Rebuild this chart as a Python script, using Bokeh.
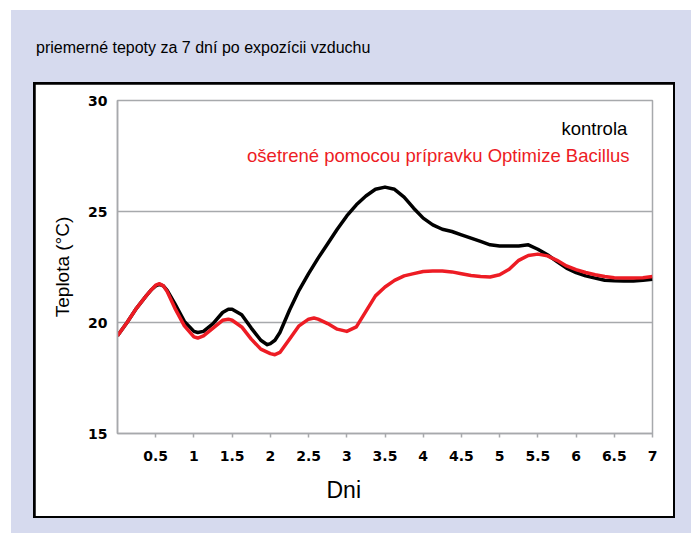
from bokeh.plotting import figure
from bokeh.models import Div, Label, FixedTicker, Range1d, NumeralTickFormatter, Title
from bokeh.layouts import column
from bokeh.embed import file_html
from bokeh.resources import INLINE

title_text = "priemerné tepoty za 7 dní po expozícii vzduchu"
x_label = "Dni"
y_label = "Teplota (°C)"
series_control = "kontrola"
series_treated = "ošetrené pomocou prípravku Optimize Bacillus"

x_ticks = [0.5, 1, 1.5, 2, 2.5, 3, 3.5, 4, 4.5, 5, 5.5, 6, 6.5, 7]
y_ticks = [15, 20, 25, 30]

control_x = [0.0, 0.125, 0.25, 0.375, 0.45, 0.5, 0.55, 0.6, 0.65, 0.75, 0.875, 1.0, 1.05, 1.125,
             1.25, 1.375, 1.45, 1.5, 1.625, 1.75, 1.875, 1.96, 2.0, 2.06, 2.125, 2.25, 2.375,
             2.5, 2.625, 2.75, 2.875, 3.0, 3.125, 3.25, 3.375, 3.5, 3.625, 3.75, 3.875,
             4.0, 4.125, 4.25, 4.375, 4.5, 4.625, 4.75, 4.875, 5.0, 5.125, 5.25, 5.375,
             5.5, 5.625, 5.75, 5.875, 6.0, 6.125, 6.25, 6.375, 6.5, 6.625, 6.75, 6.875, 7.0]
control_y = [19.4, 20.0, 20.65, 21.2, 21.5, 21.65, 21.72, 21.65, 21.45, 20.85, 20.05, 19.6, 19.55, 19.6,
             19.95, 20.45, 20.6, 20.6, 20.35, 19.75, 19.2, 19.0, 19.05, 19.2, 19.55, 20.55, 21.45,
             22.2, 22.9, 23.55, 24.2, 24.8, 25.3, 25.7, 26.0, 26.1, 26.0, 25.65, 25.15,
             24.7, 24.4, 24.2, 24.1, 23.95, 23.8, 23.65, 23.5, 23.45, 23.45, 23.45, 23.5,
             23.3, 23.05, 22.75, 22.45, 22.25, 22.1, 22.0, 21.9, 21.88, 21.87, 21.87, 21.9, 21.95]

treated_x = [0.0, 0.125, 0.25, 0.375, 0.45, 0.5, 0.55, 0.6, 0.65, 0.75, 0.875, 1.0, 1.05, 1.125,
             1.25, 1.375, 1.45, 1.5, 1.625, 1.75, 1.875, 2.0, 2.06, 2.125, 2.25, 2.375,
             2.5, 2.57, 2.625, 2.75, 2.875, 3.0, 3.125, 3.25, 3.375, 3.5, 3.625, 3.75,
             3.875, 4.0, 4.125, 4.25, 4.375, 4.5, 4.625, 4.75, 4.875, 5.0, 5.125, 5.25,
             5.375, 5.5, 5.625, 5.75, 5.875, 6.0, 6.125, 6.25, 6.375, 6.5, 6.625, 6.75,
             6.875, 7.0]
treated_y = [19.4, 20.0, 20.65, 21.2, 21.5, 21.68, 21.75, 21.65, 21.4, 20.65, 19.85, 19.35, 19.3, 19.4,
             19.75, 20.1, 20.15, 20.1, 19.8, 19.25, 18.8, 18.6, 18.55, 18.65, 19.25, 19.85,
             20.15, 20.2, 20.15, 19.95, 19.7, 19.6, 19.8, 20.5, 21.2, 21.6, 21.9, 22.1,
             22.2, 22.3, 22.32, 22.32, 22.28, 22.2, 22.12, 22.07, 22.05, 22.15, 22.4, 22.8,
             23.02, 23.08, 23.0, 22.8, 22.55, 22.38, 22.25, 22.15, 22.07, 22.02, 22.0, 22.0,
             22.02, 22.07]

GRAY = "#a7a9ac"
RED = "#ed1c24"
LAVENDER = "#d6daee"

p = figure(width=638, height=432, output_backend="svg", toolbar_location=None,
           x_range=Range1d(0, 7), y_range=Range1d(15, 30),
           min_border_left=82, min_border_right=21, min_border_top=16, min_border_bottom=83,
           margin=(2, 2, 2, 2))
p.border_fill_color = "white"
p.background_fill_color = "white"
p.outline_line_color = GRAY
p.outline_line_width = 1.5

p.xgrid.visible = False
p.ygrid.ticker = FixedTicker(ticks=[20, 25, 30])
p.ygrid.grid_line_color = GRAY
p.ygrid.grid_line_width = 1.5

p.xaxis.ticker = FixedTicker(ticks=x_ticks)
p.xaxis.formatter = NumeralTickFormatter(format="0.[0]")
p.yaxis.ticker = FixedTicker(ticks=y_ticks)
for ax in (p.xaxis, p.yaxis):
    ax.axis_line_color = GRAY
    ax.axis_line_width = 1.5
    ax.major_tick_line_color = GRAY
    ax.major_tick_line_width = 1.5
    ax.minor_tick_line_color = None
    ax.major_tick_in = 0
    ax.major_label_text_font = "DejaVu Sans"
    ax.major_label_text_font_style = "bold"
    ax.major_label_text_font_size = "14px"
    ax.major_label_text_color = "black"
    ax.axis_label_text_font = "Liberation Sans"
    ax.axis_label_text_font_style = "normal"
    ax.axis_label_text_color = "black"
p.xaxis.major_tick_out = 4
p.xaxis.major_label_standoff = 13
p.yaxis.major_tick_out = 0
p.yaxis.major_label_standoff = 10
p.yaxis.axis_label = y_label
p.yaxis.axis_label_text_font_size = "19px"
p.yaxis.axis_label_standoff = 12

p.line(control_x, control_y, line_color="black", line_width=3.5, line_join="round")
p.line(treated_x, treated_y, line_color=RED, line_width=3.5, line_join="round")

p.add_layout(Label(x=6.67, y=28.74, text=series_control, text_align="right",
                   text_baseline="alphabetic", text_font="Liberation Sans",
                   text_font_size="18.5px", text_color="black"))
p.add_layout(Label(x=6.70, y=27.52, text=series_treated, text_align="right",
                   text_baseline="alphabetic", text_font="Liberation Sans",
                   text_font_size="18.5px", text_color=RED))
# x-axis title, placed off-centre below the axis as in the original
p.add_layout(Title(text=x_label, align="left", offset=209, standoff=22,
                   text_font="Liberation Sans", text_font_size="23px",
                   text_font_style="normal", text_color="black"), "below")

box = column(p, width=642, height=436, margin=(0, 0, 0, 22),
             styles={"background-color": "#000000"})

title = Div(text=title_text, width=600, height=20, margin=(27, 0, 25, 25),
            styles={"font-family": "Liberation Sans", "font-size": "16px", "color": "black",
                    "white-space": "nowrap"})

layout = column(title, box, width=680, height=523, margin=(10, 0, 0, 11),
                styles={"background-color": LAVENDER})

open("out.html", "w").write(file_html(layout, INLINE))
